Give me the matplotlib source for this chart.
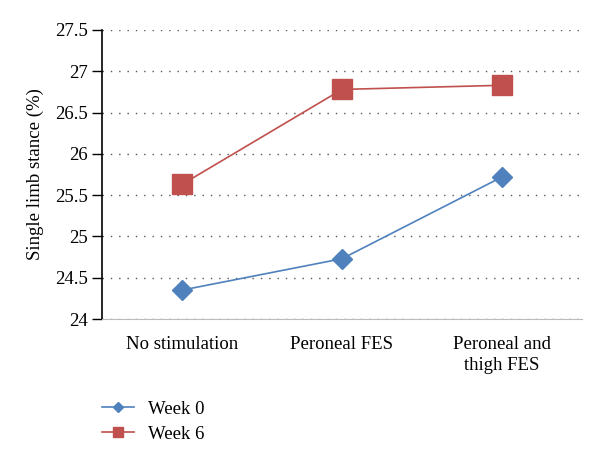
import matplotlib
matplotlib.use("Agg")
import matplotlib.pyplot as plt

categories = ["No stimulation", "Peroneal FES", "Peroneal and\nthigh FES"]
week0 = [24.35, 24.73, 25.72]
week6 = [25.63, 26.78, 26.83]
yticks = [24, 24.5, 25, 25.5, 26, 26.5, 27, 27.5]
ytick_labels = ["24", "24.5", "25", "25.5", "26", "26.5", "27", "27.5"]

plt.rcParams["font.family"] = ["Liberation Serif", "DejaVu Serif"]

fig = plt.figure(figsize=(6.0, 4.61), dpi=100)
ax = fig.add_axes([0.17, 0.308, 0.80, 0.627])

x = list(range(len(categories)))
ax.plot(x, week0, color="#4F81BD", marker="D", markersize=10, linewidth=1.2,
        label="Week 0", zorder=3)
ax.plot(x, week6, color="#C0504D", marker="s", markersize=14, linewidth=1.2,
        label="Week 6", zorder=3)

ax.set_xlim(-0.5, 2.5)
ax.set_ylim(24, 27.5)
ax.set_yticks(yticks)
ax.set_yticklabels(ytick_labels, fontsize=13.5)
ax.set_xticks(x)
ax.set_xticklabels(categories, fontsize=13.5, linespacing=1.3)
ax.tick_params(axis="x", length=0, pad=12)
ax.tick_params(axis="y", direction="out", length=7, width=1, pad=3)
ax.set_ylabel("Single limb stance (%)", fontsize=13.5, labelpad=8)

ax.grid(axis="y", linestyle=(0, (1, 5)), color="#555555", linewidth=1)
ax.spines["top"].set_visible(False)
ax.spines["right"].set_visible(False)
ax.spines["bottom"].set_color("#bbbbbb")
ax.spines["left"].set_linewidth(1.2)

ax.legend(loc="upper left", bbox_to_anchor=(0.0, -0.283), frameon=False,
          borderaxespad=0, borderpad=0,
          fontsize=13.5, handlelength=1.7, handletextpad=0.75, labelspacing=0.4,
          markerscale=0.5)

fig.savefig("out.png", dpi=100)
